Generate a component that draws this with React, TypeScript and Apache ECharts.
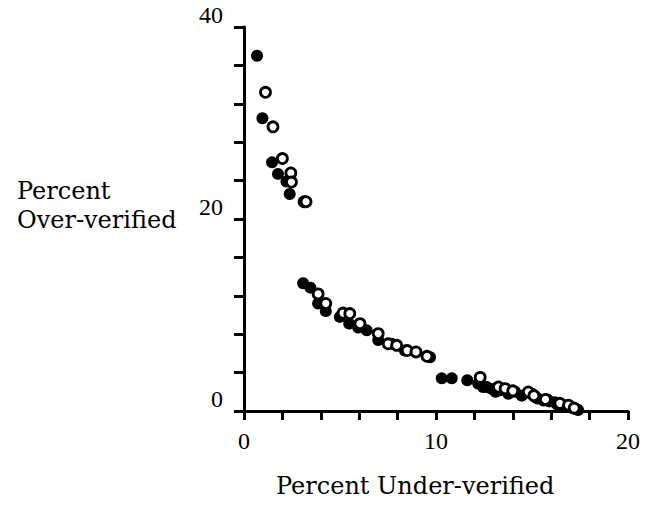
import React, { useEffect, useRef } from "react";
import * as echarts from "echarts";

const filledX = [0.68, 0.96, 1.46, 1.77, 2.21, 2.38, 3.08, 3.46, 3.86, 4.26, 4.99, 5.48, 5.95, 6.39, 6.99, 7.69, 8.38, 9.69, 10.3, 10.82, 11.63, 12.2, 12.45, 12.64, 12.9, 13.1, 13.34, 13.77, 14.12, 14.47, 15.0, 15.2, 15.3, 15.6, 15.8, 15.9, 16.2, 16.3, 16.5, 16.7, 16.8, 17.0, 17.1, 17.3, 17.4];
const filledY = [37.0, 30.5, 25.9, 24.7, 23.9, 22.6, 13.3, 12.85, 11.2, 10.4, 9.8, 9.1, 8.7, 8.4, 7.4, 7.0, 6.3, 5.6, 3.4, 3.4, 3.2, 2.85, 2.5, 2.5, 2.3, 2.0, 2.16, 1.8, 2.0, 1.6, 1.8, 1.4, 1.3, 1.1, 1.2, 1.0, 0.9, 0.7, 0.7, 0.6, 0.5, 0.5, 0.3, 0.2, 0.1];

const openX = [1.12, 1.51, 2.0, 2.44, 2.47, 3.13, 3.23, 3.86, 4.26, 5.16, 5.51, 6.04, 6.99, 7.51, 7.95, 8.5, 8.96, 9.53, 12.3, 13.25, 13.6, 14.0, 14.81, 15.1, 15.7, 16.45, 16.9, 17.2];
const openY = [33.2, 29.6, 26.3, 24.8, 23.85, 21.8, 21.8, 12.2, 11.2, 10.2, 10.15, 9.1, 8.06, 7.0, 6.84, 6.3, 6.15, 5.7, 3.5, 2.5, 2.33, 2.1, 1.98, 1.6, 1.2, 0.8, 0.6, 0.3];

const xTickLabels = ["0", "10", "20"];
const yTickLabels = ["0", "20", "40"];
const xTitle = "Percent Under-verified";
const yTitleLines = ["Percent", "Over-verified"];

export default function App() {
  const ref = useRef<HTMLDivElement>(null);
  useEffect(() => {
    if (!ref.current) return;
    const chart = echarts.init(ref.current, undefined, { renderer: "svg" });
    const tickFont = "Liberation Serif";
    const titleFont = "DejaVu Serif";
    chart.setOption({
      animation: false,
      backgroundColor: "#ffffff",
      grid: { left: 244, right: 20, top: 27, bottom: 95, containLabel: false },
      xAxis: {
        type: "value",
        min: 0,
        max: 20,
        interval: 2,
        splitLine: { show: false },
        axisLine: { show: true, onZero: false, lineStyle: { color: "#000", width: 3 } },
        axisTick: { show: true, inside: false, length: 9, lineStyle: { color: "#000", width: 3 } },
        axisLabel: {
          margin: 18,
          color: "#000",
          fontFamily: tickFont,
          fontSize: 24,
          formatter: (v: number) => (xTickLabels.includes(String(v)) ? String(v) : ""),
        },
      },
      yAxis: {
        type: "value",
        min: 0,
        max: 40,
        interval: 4,
        splitLine: { show: false },
        axisLine: { show: true, onZero: false, lineStyle: { color: "#000", width: 3 } },
        axisTick: { show: true, inside: false, length: 10, lineStyle: { color: "#000", width: 3 } },
        axisLabel: {
          margin: 21,
          color: "#000",
          fontFamily: tickFont,
          fontSize: 24,
          verticalAlign: "bottom",
          lineHeight: 24,
          formatter: (v: number) => (yTickLabels.includes(String(v)) ? String(v) : ""),
        },
      },
      graphic: [
        {
          type: "text",
          left: 416 - 140,
          top: 474,
          style: { text: xTitle, fill: "#000", font: `24px "${titleFont}"` },
        },
        {
          type: "text",
          x: 17,
          y: 190.5,
          style: { text: yTitleLines[0], fill: "#000", font: `24px "${titleFont}"`, verticalAlign: "middle", align: "left" },
        },
        {
          type: "text",
          x: 17,
          y: 219.5,
          style: { text: yTitleLines[1], fill: "#000", font: `24px "${titleFont}"`, verticalAlign: "middle", align: "left" },
        },
      ],
      series: [
        {
          type: "scatter",
          symbol: "circle",
          symbolSize: 12,
          itemStyle: { color: "#000", opacity: 1 },
          data: filledX.map((x, i) => [x, filledY[i]]),
          z: 2,
        },
        {
          type: "scatter",
          symbol: "circle",
          symbolSize: 10,
          itemStyle: { color: "#fff", borderColor: "#000", borderWidth: 2.8, opacity: 1 },
          data: openX.map((x, i) => [x, openY[i]]),
          z: 3,
        },
      ],
    });
    return () => chart.dispose();
  }, []);
  return <div ref={ref} style={{ width: 648, height: 506, position: "absolute", left: 0, top: 0 }} />;
}
